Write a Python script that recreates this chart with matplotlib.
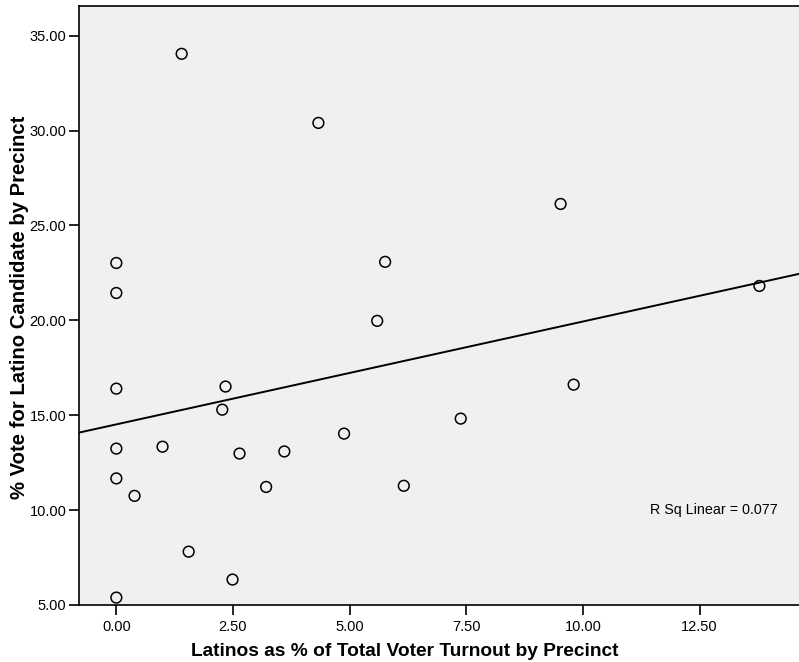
import numpy as np
import matplotlib
matplotlib.use("Agg")
import matplotlib.pyplot as plt

plt.rcParams["font.family"] = ["Liberation Sans", "DejaVu Sans"]

# share of Latino voters in precinct turnout (%)
latino_share = [1.40, 4.33, 9.52, 5.76, 0.00, 0.00, 13.78, 5.59, 0.00, 2.34, 9.80, 2.27, 7.38,
                4.88, 0.00, 0.99, 2.64, 3.60, 0.00, 0.39, 3.21, 6.16, 1.55, 2.49, 0.00]
# vote share for the Latino candidate (%)
latino_vote = [34.04, 30.40, 26.13, 23.08, 23.02, 21.44, 21.81, 19.97, 16.40, 16.51, 16.61, 15.29, 14.82,
               14.03, 13.24, 13.34, 12.98, 13.09, 11.67, 10.75, 11.22, 11.28, 7.81, 6.34, 5.39]
x_ticks = [0.0, 2.5, 5.0, 7.5, 10.0, 12.5]
y_ticks = [5, 10, 15, 20, 25, 30, 35]

x = np.array(latino_share)
y = np.array(latino_vote)
slope, intercept = np.polyfit(x, y, 1)

W, H = 799, 662
fig = plt.figure(figsize=(W / 100, H / 100), dpi=100)
ax = fig.add_axes([79 / W, 57 / H, 1 - 79 / W + 0.01, (605 - 6) / H])
ax.set_facecolor("#f0f0f0")

ax.scatter(x, y, s=60, facecolors="none", edgecolors="black", linewidths=1.1, zorder=3)

xlim = (-0.8, 14.8)
xs = np.array(xlim)
ax.plot(xs, intercept + slope * xs, color="black", linewidth=1.4, zorder=2)

ax.set_xlim(xlim)
ax.set_ylim(5, 36.56)
ax.set_xticks(x_ticks)
ax.set_xticklabels(["%.2f" % v for v in x_ticks])
ax.set_yticks(y_ticks)
ax.set_yticklabels(["%.2f" % v for v in y_ticks])
ax.tick_params(direction="out", length=7, width=1.2, labelsize=10.5, colors="black")
ax.tick_params(axis="y", pad=2)
for s in ax.spines.values():
    s.set_linewidth(1.2)

fig.text(714 / W, 1 - 510 / H, "R Sq Linear = 0.077", ha="center", va="center", fontsize=10.3)

fig.text(405 / W, 1 - 651 / H, "Latinos as % of Total Voter Turnout by Precinct",
         ha="center", va="center", fontsize=13.8, fontweight="bold")
fig.text(20 / W, 1 - 307 / H, "% Vote for Latino Candidate by Precinct",
         ha="center", va="center", rotation=90, fontsize=14.6, fontweight="bold")

fig.savefig("out.png", dpi=100)
